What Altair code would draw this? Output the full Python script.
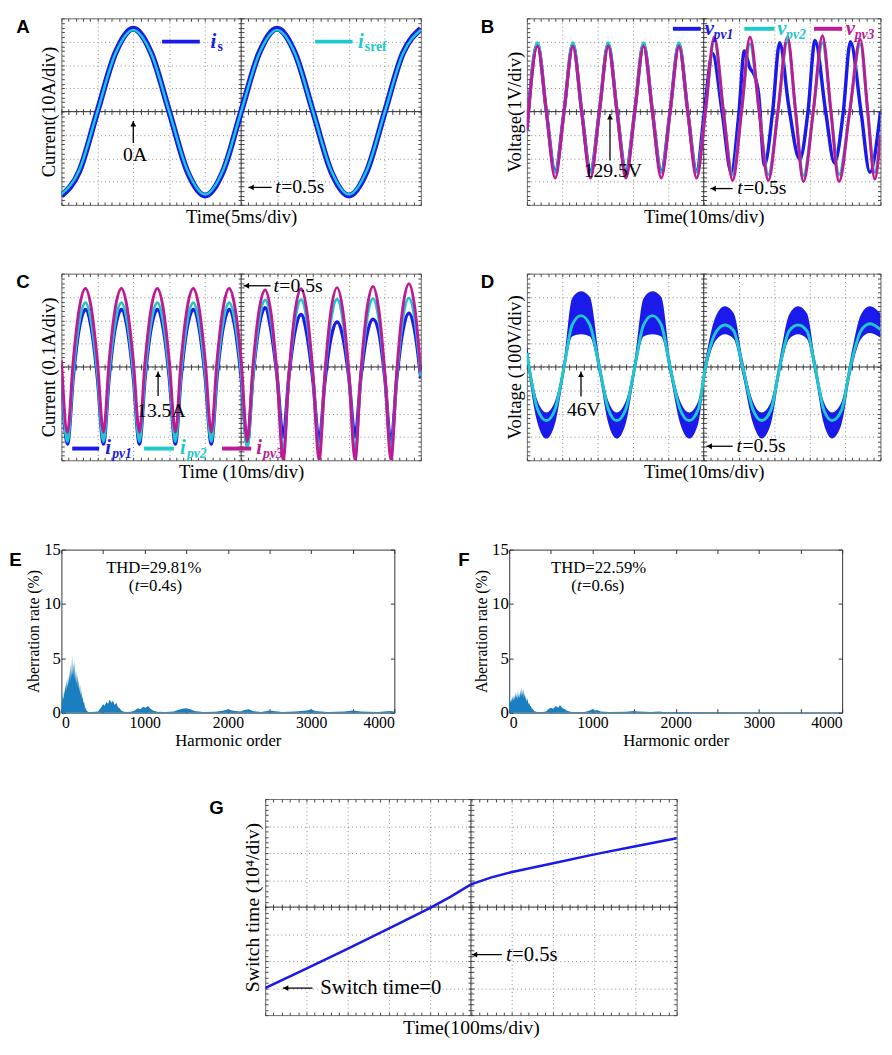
import altair as alt
import pandas as pd

SERIF = "Liberation Serif"
SANS = "Liberation Sans"
BLUE = "#1a1aeb"
CYAN = "#1ec9cc"
MAG = "#bd1a95"
SPEC = "#1a7fc1"
GRID = "#8a8a8a"
FRAME = "#6a6a6a"

# ---------------- data (in screen divisions) ----------------
A_T = [0, 0.5, 1, 1.5, 2, 2.5, 3, 3.5, 4, 4.5, 5, 5.5, 6, 6.5, 7, 7.5, 8, 8.5, 9, 9.5, 10]
A_IS = [-3.6, -2.55, 0, 2.5, 3.55, 2.5, 0, -2.55, -3.6, -2.55, 0, 2.5, 3.55, 2.5, 0, -2.55, -3.6, -2.55, 0, 2.5, 3.55]
A_ISREF = [-3.55, -2.5, 0, 2.48, 3.5, 2.48, 0, -2.5, -3.55, -2.5, 0, 2.48, 3.5, 2.48, 0, -2.5, -3.55, -2.5, 0, 2.48, 3.5]

B_T1 = [0, 0.3, 0.55, 0.8, 1.05, 1.3, 1.55, 1.8, 2.05, 2.3, 2.55, 2.8, 3.05, 3.3, 3.55, 3.8, 4.05, 4.3, 4.55, 4.8,
        5.02, 5.25, 5.52, 5.78, 6.0, 6.15, 6.3, 6.45, 6.55, 6.72, 6.95, 7.15, 7.4, 7.72, 7.95, 8.15, 8.45, 8.7, 8.95,
        9.15, 9.45, 9.7, 10]
B_V1 = [-0.8, 2.9, 0, -2.55, 0, 2.9, 0, -2.55, 0, 2.9, 0, -2.55, 0, 2.9, 0, -2.55, 0, 2.9, 0, -2.55,
        0, 2.5, 0, -2.6, 0, 2.6, 1.9, 1.5, 0.8, -2.3, 0, 2.95, 0.3, -2.05, 0, 3.05, 0, -2.2, 0,
        3.0, 0, -2.6, 0]
B_T23 = [0, 0.3, 0.55, 0.8, 1.05, 1.3, 1.55, 1.8, 2.05, 2.3, 2.55, 2.8, 3.05, 3.3, 3.55, 3.8, 4.05, 4.3, 4.55, 4.8,
         5.05, 5.3, 5.56, 5.82, 6.07, 6.31, 6.57, 6.83, 7.1, 7.37, 7.6, 7.82, 8.1, 8.36, 8.6, 8.83, 9.13, 9.43, 9.64,
         9.84, 10]
B_V2 = [-0.8, 2.95, 0, -2.6, 0, 2.95, 0, -2.6, 0, 2.95, 0, -2.6, 0, 2.95, 0, -2.6, 0, 2.95, 0, -2.6,
        0, 3.05, 0, -2.7, 0, 2.9, 0, -2.7, 0, 3.0, 0, -2.75, 0, 2.95, 0, -2.7, 0, 2.9, 0,
        -2.6, -1.0]
B_V3 = [-0.8, 2.8, 0, -2.85, 0, 2.8, 0, -2.85, 0, 2.8, 0, -2.85, 0, 2.8, 0, -2.85, 0, 2.8, 0, -2.85,
        0, 3.2, 0, -2.95, 0, 3.2, 0, -2.95, 0, 3.2, 0, -3.0, 0, 3.25, 0, -3.0, 0, 3.1, 0,
        -2.9, -1.0]

C_T = [0, 0.17, 0.33, 0.5, 0.67, 0.83, 1, 1.17, 1.33, 1.5, 1.67, 1.83, 2, 2.17, 2.33, 2.5, 2.67, 2.83,
       3, 3.17, 3.33, 3.5, 3.67, 3.83, 4, 4.17, 4.33, 4.5, 4.67, 4.83, 5, 5.17, 5.33, 5.5, 5.67, 5.83,
       6, 6.17, 6.33, 6.5, 6.67, 6.83, 7, 7.17, 7.33, 7.5, 7.67, 7.83, 8, 8.17, 8.33, 8.5, 8.67, 8.83,
       9, 9.17, 9.33, 9.5, 9.67, 9.83, 10]
C_PV1 = [-0.42, -3.3, -0.42, 1.69, 2.46, 1.69, -0.42, -3.3, -0.42, 1.69, 2.46, 1.69, -0.42, -3.3, -0.42, 1.69, 2.46, 1.69,
         -0.42, -3.3, -0.42, 1.69, 2.46, 1.69, -0.42, -3.3, -0.42, 1.69, 2.46, 1.69, -0.42, -3.3, -0.38, 1.76, 2.54, 1.6,
         -0.4, -3.0, -0.38, 1.55, 2.25, 1.4, -0.6, -3.2, -0.64, 1.24, 1.93, 1.3, -0.5, -3.0, -0.48, 1.37, 2.05, 1.5,
         -0.5, -3.3, -0.5, 1.55, 2.3, 1.55, -0.5]
C_PV2 = [-0.22, -3.2, -0.22, 1.95, 2.75, 1.95, -0.22, -3.2, -0.22, 1.95, 2.75, 1.95, -0.22, -3.2, -0.22, 1.95, 2.75, 1.95,
         -0.22, -3.2, -0.22, 1.95, 2.75, 1.95, -0.22, -3.2, -0.22, 1.95, 2.75, 1.95, -0.22, -3.5, -0.35, 2.0, 2.87, 2.0,
         -0.4, -3.7, -0.4, 2.0, 2.88, 2.0, -0.4, -3.7, -0.4, 2.02, 2.9, 2.02, -0.4, -3.7, -0.4, 2.05, 2.92, 2.05,
         -0.4, -3.7, -0.4, 2.08, 2.95, 2.08, -0.4]
C_PV3 = [0.28, -2.8, 0.28, 2.53, 3.36, 2.53, 0.28, -2.8, 0.28, 2.53, 3.36, 2.53, 0.28, -2.8, 0.28, 2.53, 3.36, 2.53,
         0.28, -2.8, 0.28, 2.53, 3.36, 2.53, 0.28, -2.8, 0.28, 2.53, 3.36, 2.53, 0.28, -3.2, 0.05, 2.43, 3.3, 2.32,
         -0.35, -4.0, -0.33, 2.37, 3.35, 2.37, -0.33, -4.0, -0.3, 2.41, 3.4, 2.41, -0.3, -4.0, -0.28, 2.45, 3.45, 2.45,
         -0.28, -4.0, -0.22, 2.56, 3.57, 2.56, -0.22]

D_T = [0, 0.3, 0.55, 0.8, 1.05, 1.28, 1.53, 1.78, 2.05, 2.3, 2.54, 2.8, 3.05, 3.3, 3.55, 3.8, 4.05, 4.33, 4.59, 4.85,
       5.05, 5.35, 5.6, 5.85, 6.1, 6.4, 6.64, 6.9, 7.15, 7.42, 7.67, 7.92, 8.15, 8.4, 8.63, 8.9, 9.15, 9.45, 9.7, 10]
D_CYAN = [0.6, -1.8, -2.3, -1.8, 0, 1.8, 2.2, 1.8, 0, -1.8, -2.3, -1.8, 0, 1.8, 2.2, 1.8, 0, -1.8, -2.3, -1.8,
          0, 1.5, 1.8, 1.55, 0, -1.85, -2.3, -1.85, 0, 1.55, 1.8, 1.55, 0, -1.85, -2.3, -1.85, 0, 1.55, 1.85, 1.6]
D_UP = [0.95, -1.45, -1.95, -1.45, 0.35, 2.95, 3.24, 3.0, 0.35, -1.45, -1.95, -1.45, 0.35, 2.95, 3.24, 3.0, 0.35, -1.45, -1.95, -1.45,
        0.35, 2.2, 2.6, 2.3, 0.35, -1.5, -1.95, -1.5, 0.35, 2.25, 2.6, 2.3, 0.35, -1.5, -1.95, -1.5, 0.35, 2.25, 2.6, 2.3]
D_LO = [0.25, -2.4, -3.07, -2.4, -0.35, 1.3, 1.4, 1.3, -0.35, -2.4, -3.07, -2.4, -0.35, 1.3, 1.4, 1.3, -0.35, -2.4, -3.07, -2.4,
        -0.35, 1.15, 1.4, 1.2, -0.35, -2.45, -3.07, -2.45, -0.35, 1.2, 1.4, 1.2, -0.35, -2.45, -3.07, -2.45, -0.35, 1.2, 1.45, 1.25]

E_ORDER = [0, 8, 16, 24, 32, 40, 48, 56, 64, 72, 80, 88, 96, 104, 112, 120, 128, 136, 144, 152, 160, 168, 176, 184,
           192, 200, 208, 216, 224, 232, 240, 248, 256, 264, 272, 280, 290, 300, 315, 330, 350, 400, 440,
           460, 480, 500, 520, 540, 560, 580, 600, 620, 640, 660, 680, 700, 720, 750, 800, 850, 880,
           920, 950, 980, 1010, 1040, 1070, 1100, 1150, 1250, 1350, 1400, 1450, 1500, 1550, 1600,
           1700, 1850, 1950, 2000, 2050, 2150, 2200, 2250, 2300, 2400, 2500, 2550, 2650, 2800,
           2950, 3000, 3050, 3200, 3400, 3500, 3600, 3800, 3950, 4000]
E_RATE = [0.3, 1.0, 1.6, 1.2, 2.1, 1.7, 2.6, 2.0, 3.0, 2.3, 3.4, 2.6, 3.9, 2.8, 4.5, 3.2, 5.3, 3.4, 4.6, 3.0, 4.8, 2.9, 3.9, 2.6,
          3.5, 2.2, 3.1, 1.9, 2.6, 1.6, 2.0, 1.2, 1.5, 0.9, 1.0, 0.6, 0.4, 0.25, 0.1, 0.05, 0.05, 0.08, 0.1,
          0.3, 0.5, 0.8, 0.6, 1.0, 0.8, 1.2, 0.9, 1.1, 0.7, 0.9, 0.5, 0.4, 0.2, 0.08, 0.05, 0.1, 0.2,
          0.4, 0.3, 0.55, 0.45, 0.6, 0.35, 0.2, 0.08, 0.05, 0.1, 0.25, 0.35, 0.4, 0.3, 0.15,
          0.05, 0.08, 0.2, 0.3, 0.2, 0.1, 0.25, 0.3, 0.15, 0.05, 0.2, 0.15, 0.05, 0.1,
          0.2, 0.3, 0.15, 0.05, 0.1, 0.2, 0.1, 0.05, 0.15, 0.1]
F_ORDER = [0, 3, 8, 16, 24, 32, 40, 48, 56, 64, 72, 80, 88, 96, 104, 112, 120, 128, 136, 144, 152, 160, 168, 176,
           184, 192, 200, 210, 220, 230, 240, 250, 260, 270, 285, 300, 330, 400, 440, 470, 500, 530, 560, 590,
           610, 640, 670, 700, 750, 900, 950, 1000, 1030, 1060, 1100, 1200, 1400, 1500, 1550, 1700, 1800, 1850,
           2100, 4000]
F_RATE = [5.0, 2.0, 1.2, 0.9, 1.3, 1.0, 1.5, 1.1, 1.6, 1.2, 1.9, 1.3, 1.7, 1.2, 2.0, 1.4, 1.8, 1.3, 2.1, 1.5, 2.3, 1.6,
          2.2, 1.4, 1.8, 1.2, 1.6, 1.0, 1.3, 0.8, 0.9, 0.6, 0.6, 0.4, 0.3, 0.15, 0.05, 0.05, 0.1, 0.3, 0.45, 0.35,
          0.6, 0.45, 0.7, 0.4, 0.3, 0.15, 0.05, 0.05, 0.15, 0.3, 0.2, 0.25, 0.1, 0.05, 0.08, 0.15, 0.1, 0.05,
          0.1, 0.05, 0.05, 0.03]

G_T = [0, 1, 2, 3, 4, 4.5, 5, 5.5, 6, 7, 8, 9, 10]
G_V = [-3.0, -2.28, -1.55, -0.8, -0.04, 0.38, 0.84, 1.1, 1.3, 1.62, 1.95, 2.25, 2.55]

# annotations (data units)
A_LEG = {"x": [2.8, 7.06], "x2": [3.85, 8.1], "y": [3.0, 3.0], "xl": [4.15, 8.25]}
A_ARROW_UP = {"x": [2.0], "y": [-1.35], "x2": [2.0], "y2": [-0.4]}
A_ARROW_LEFT = {"x": [5.85], "y": [-3.25], "x2": [5.2], "y2": [-3.25]}
A_TXT = {"x": [2.05], "y": [-1.85], "text": ["0A"]}
A_T05 = {"x": [5.95], "y": [-3.25]}

B_LEG = {"x": [4.13, 6.15, 8.12], "x2": [4.92, 7.0, 8.92], "y": [3.55, 3.55, 3.55], "xl": [5.03, 7.08, 9.02]}
B_ARROW_UP = {"x": [2.35], "y": [-2.1], "x2": [2.35], "y2": [-0.1]}
B_ARROW_LEFT = {"x": [5.82], "y": [-3.3], "x2": [5.19], "y2": [-3.3]}
B_TXT = {"x": [2.43], "y": [-2.55], "text": ["129.5V"]}
B_T05 = {"x": [5.95], "y": [-3.3]}

C_LEG = {"x": [0.3, 2.3, 4.47], "x2": [1.05, 3.13, 5.28], "y": [-3.5, -3.5, -3.5], "xl": [1.22, 3.3, 5.42]}
C_ARROW_UP = {"x": [2.69], "y": [-1.25], "x2": [2.69], "y2": [-0.2]}
C_ARROW_LEFT = {"x": [5.82], "y": [3.48], "x2": [5.07], "y2": [3.48]}
C_TXT = {"x": [2.78], "y": [-1.9], "text": ["13.5A"]}
C_T05 = {"x": [5.9], "y": [3.48]}

D_ARROW_UP = {"x": [1.53], "y": [-1.27], "x2": [1.53], "y2": [-0.2]}
D_ARROW_LEFT = {"x": [5.82], "y": [-3.4], "x2": [5.08], "y2": [-3.4]}
D_TXT = {"x": [1.61], "y": [-1.85], "text": ["46V"]}
D_T05 = {"x": [5.93], "y": [-3.4]}

G_ARROW_LEFT = {"x": [1.15, 5.75], "y": [-3.0, -1.76], "x2": [0.43, 5.02], "y2": [-3.0, -1.76]}
G_TXT = {"x": [1.34], "y": [-3.0], "text": ["Switch time=0"]}
G_T05 = {"x": [5.85], "y": [-1.76]}

E_THD = {"x": [1109], "y": [13.3], "text": ["THD=29.81%"]}
E_TP = {"x": [810], "y": [11.6], "a": ["("], "b": ["t"], "c": ["=0.4s)"]}
F_THD = {"x": [1074], "y": [13.3], "text": ["THD=22.59%"]}
F_TP = {"x": [745], "y": [11.6], "a": ["("], "b": ["t"], "c": ["=0.6s)"]}

# ---------------- helpers ----------------
XS = alt.Scale(domain=[0, 10], nice=False, zero=False)
YS = alt.Scale(domain=[-4, 4], nice=False, zero=False)
XMINOR = [round(i * 0.2, 1) for i in range(51)]
YMINOR = [round(-4 + i * 0.2, 1) for i in range(41)]
ONE = pd.DataFrame({"k": [0]})


def xy(xf, yf, xs=XS, ys=YS):
    return dict(x=alt.X(f"{xf}:Q", scale=xs, axis=None), y=alt.Y(f"{yf}:Q", scale=ys, axis=None))


def series(t, v, color, width, interp="monotone"):
    df = pd.DataFrame({"t": t, "v": v})
    return alt.Chart(df).mark_line(color=color, strokeWidth=width, interpolate=interp, clip=True).encode(**xy("t", "v"))


def tick_axis(orient, offset, values, size, color="#444"):
    return alt.Axis(orient=orient, offset=offset, values=values, grid=False, labels=False, domain=False,
                    tickSize=size, tickColor=color, title=None, minExtent=0, maxExtent=0)


def scope_frame(df, w, h, xtitle, ytitle, tfs=19):
    base = alt.Chart(df).mark_point(opacity=0).encode(
        x=alt.X("t:Q", scale=XS, axis=alt.Axis(values=list(range(11)), grid=True, gridDash=[1, 3], gridColor=GRID,
                                                ticks=False, labels=False, domain=False, title=xtitle,
                                                titleFont=SERIF, titleFontSize=tfs, titleFontWeight="normal",
                                                titleColor="black", titlePadding=3, minExtent=0)),
        y=alt.Y("v:Q", scale=YS, axis=alt.Axis(values=list(range(-4, 5)), grid=True, gridDash=[1, 3], gridColor=GRID,
                                                ticks=False, labels=False, domain=False, title=ytitle,
                                                titleFont=SERIF, titleFontSize=tfs, titleFontWeight="normal",
                                                titleColor="black", titlePadding=3, minExtent=0)))

    def ticks(xo, xoff, yo, yoff, size):
        return alt.Chart(df).mark_point(opacity=0, size=1).encode(
            x=alt.X("t:Q", scale=XS, axis=tick_axis(xo, xoff, XMINOR, size)),
            y=alt.Y("v:Q", scale=YS, axis=tick_axis(yo, yoff, YMINOR, size)))

    hrule = alt.Chart(ONE).mark_rule(color="#333", strokeWidth=1).encode(y=alt.YDatum(0, scale=YS, axis=None))
    vrule = alt.Chart(ONE).mark_rule(color="#333", strokeWidth=1).encode(x=alt.XDatum(5, scale=XS, axis=None))
    return [base,
            ticks("top", -h, "left", -w, 3),
            ticks("bottom", -h, "right", -w, 3),
            ticks("top", -(h / 2 + 3), "left", -(w / 2 + 3), 6),
            hrule, vrule]


def letter(ch, dx, dy=0):
    return alt.Chart(ONE).mark_text(text=ch, font=SANS, fontSize=19, fontWeight="bold", align="left",
                                    baseline="top", color="black").encode(x=alt.value(dx), y=alt.value(dy))


def texts(d, size=20, align="center", xs=XS, ys=YS):
    df = pd.DataFrame(d)
    return alt.Chart(df).mark_text(font=SERIF, fontSize=size, align=align, baseline="middle", color="black").encode(
        text="text:N", **xy("x", "y", xs, ys))


def arrows(d, direction):
    df = pd.DataFrame(d)
    shaft = alt.Chart(df).mark_rule(color="black", strokeWidth=1.3).encode(
        x=alt.X("x:Q", scale=XS, axis=None), x2="x2:Q", y=alt.Y("y:Q", scale=YS, axis=None), y2="y2:Q")
    if direction == "up":
        head = alt.Chart(df).mark_point(shape="triangle-up", filled=True, color="black", opacity=1, size=35,
                                        yOffset=3).encode(**xy("x2", "y2"))
    else:
        head = alt.Chart(df).mark_point(shape="triangle-left", filled=True, color="black", opacity=1, size=35,
                                        xOffset=3).encode(**xy("x2", "y2"))
    return [shaft, head]


def t05(d, size=20):
    df = pd.DataFrame(d)
    a = alt.Chart(df).mark_text(text="t", font=SERIF, fontSize=size, fontStyle="italic", align="left",
                                baseline="middle", color="black").encode(**xy("x", "y"))
    b = alt.Chart(df).mark_text(text="=0.5s", font=SERIF, fontSize=size, align="left", baseline="middle",
                                color="black", dx=size * 0.3).encode(**xy("x", "y"))
    return [a, b]


def legend(leg, colors, mains, subs, sub_italic, subdx):
    layers = []
    for i, c in enumerate(colors):
        df = pd.DataFrame({"x": [leg["x"][i]], "x2": [leg["x2"][i]], "y": [leg["y"][i]], "xl": [leg["xl"][i]],
                           "m": [mains[i]], "s": [subs[i]]})
        layers.append(alt.Chart(df).mark_rule(color=c, strokeWidth=4).encode(
            x=alt.X("x:Q", scale=XS, axis=None), x2="x2:Q", y=alt.Y("y:Q", scale=YS, axis=None)))
        layers.append(alt.Chart(df).mark_text(font=SERIF, fontSize=21, fontWeight="bold", fontStyle="italic",
                                              color=c, align="left", baseline="middle").encode(
            text="m:N", **xy("xl", "y")))
        layers.append(alt.Chart(df).mark_text(font=SERIF, fontSize=14, fontWeight="bold",
                                              fontStyle="italic" if sub_italic else "normal",
                                              color=c, align="left", baseline="middle", dx=subdx, dy=6).encode(
            text="s:N", **xy("xl", "y")))
    return layers


def finish(layers, w, h, stroke=FRAME):
    return alt.layer(*layers).resolve_axis(x="independent", y="independent").properties(
        width=w, height=h, view=alt.ViewBackground(stroke=stroke, strokeWidth=1))


# ---------------- panel A ----------------
WA, HA = 366, 190
dfA = pd.DataFrame({"t": A_T, "v": A_IS})
A = finish(scope_frame(dfA, WA, HA, "Time(5ms/div)", "Current(10A/div)")
           + [series(A_T, A_IS, BLUE, 6), series(A_T, A_ISREF, CYAN, 2.5)]
           + legend(A_LEG, [BLUE, CYAN], ["i", "i"], ["s", "sref"], False, 7)
           + arrows(A_ARROW_UP, "up") + arrows(A_ARROW_LEFT, "left")
           + [texts(A_TXT)] + t05(A_T05) + [letter("A", -46)], WA, HA)

# ---------------- panel B ----------------
WB, HB = 360, 190
dfB = pd.DataFrame({"t": B_T23, "v": B_V2})
B = finish(scope_frame(dfB, WB, HB, "Time(10ms/div)", "Voltage(1V/div)")
           + [series(B_T1, B_V1, BLUE, 3.5), series(B_T23, B_V2, CYAN, 3), series(B_T23, B_V3, MAG, 3)]
           + legend(B_LEG, [BLUE, CYAN, MAG], ["v", "v", "v"], ["pv1", "pv2", "pv3"], True, 9)
           + arrows(B_ARROW_UP, "up") + arrows(B_ARROW_LEFT, "left")
           + [texts(B_TXT)] + t05(B_T05) + [letter("B", -47)], WB, HB)

# ---------------- panel C ----------------
dfC = pd.DataFrame({"t": C_T, "v": C_PV3})
C = finish(scope_frame(dfC, WA, HA, "Time (10ms/div)", "Current (0.1A/div)")
           + [series(C_T, C_PV1, BLUE, 3.5), series(C_T, C_PV2, CYAN, 3),
              series(C_T, C_PV3, MAG, 3)]
           + legend(C_LEG, [BLUE, CYAN, MAG], ["i", "i", "i"], ["pv1", "pv2", "pv3"], True, 7)
           + arrows(C_ARROW_UP, "up") + arrows(C_ARROW_LEFT, "left")
           + [texts(C_TXT)] + t05(C_T05) + [letter("C", -46)], WA, HA)

# ---------------- panel D ----------------
dfD = pd.DataFrame({"t": D_T, "v": D_CYAN, "up": D_UP, "lo": D_LO})
band = alt.Chart(dfD).mark_area(color=BLUE, interpolate="monotone", opacity=1, clip=True).encode(
    x=alt.X("t:Q", scale=XS, axis=None), y=alt.Y("up:Q", scale=YS, axis=None), y2="lo:Q")
D = finish(scope_frame(dfD, WB, HB, "Time(10ms/div)", "Voltage (100V/div)")
           + [band, series(D_T, D_CYAN, CYAN, 3)]
           + arrows(D_ARROW_UP, "up") + arrows(D_ARROW_LEFT, "left")
           + [texts(D_TXT)] + t05(D_T05) + [letter("D", -47)], WB, HB)


# ---------------- panels E, F ----------------
def spectrum(order, rate, thd, tp, ch, w, h, ldx):
    xs = alt.Scale(domain=[0, 4000], nice=False, zero=False)
    ys = alt.Scale(domain=[0, 15], nice=False, zero=False)
    df = pd.DataFrame({"o": order, "r": rate})
    xv = list(range(0, 4001, 500))
    yv = [0, 5, 10, 15]
    area = alt.Chart(df).mark_area(color=SPEC, interpolate="linear", opacity=1).encode(
        x=alt.X("o:Q", scale=xs, axis=alt.Axis(values=xv, format="d", ticks=False, domain=False, grid=False,
                                                labelFont=SERIF, labelFontSize=16, labelColor="black",
                                                labelPadding=2, title="Harmonic order", titleFont=SERIF,
                                                titleFontSize=17, titleFontWeight="normal", titleColor="black",
                                                titlePadding=2, minExtent=0)),
        y=alt.Y("r:Q", scale=ys, axis=alt.Axis(values=yv, format="d", ticks=False, domain=False, grid=False,
                                                labelFont=SERIF, labelFontSize=17, labelColor="black",
                                                labelPadding=1, title="Aberration rate (%)", titleFont=SERIF,
                                                titleFontSize=16, titleFontWeight="normal", titleColor="black",
                                                titlePadding=2, minExtent=0)))

    def tk(xo, yo):
        return alt.Chart(df).mark_point(opacity=0, size=1).encode(
            x=alt.X("o:Q", scale=xs, axis=tick_axis(xo, -h, xv, 4, "#333")),
            y=alt.Y("r:Q", scale=ys, axis=tick_axis(yo, -w, yv, 4, "#333")))

    tdf = pd.DataFrame(tp)
    enc = dict(x=alt.X("x:Q", scale=xs, axis=None), y=alt.Y("y:Q", scale=ys, axis=None))
    p1 = alt.Chart(tdf).mark_text(font=SERIF, fontSize=17, align="left", baseline="middle").encode(text="a:N", **enc)
    p2 = alt.Chart(tdf).mark_text(font=SERIF, fontSize=17, fontStyle="italic", align="left", baseline="middle",
                                  dx=6).encode(text="b:N", **enc)
    p3 = alt.Chart(tdf).mark_text(font=SERIF, fontSize=17, align="left", baseline="middle",
                                  dx=11).encode(text="c:N", **enc)
    layers = [area, tk("top", "left"), tk("bottom", "right"), texts(thd, 17, "center", xs, ys), p1, p2, p3,
              letter(ch, ldx, 2)]
    return finish(layers, w, h, "#333")


WE, HE = 339, 166
E = spectrum(E_ORDER, E_RATE, E_THD, E_TP, "E", WE, HE, -53)
F = spectrum(F_ORDER, F_RATE, F_THD, F_TP, "F", WE, HE, -52)

# ---------------- panel G ----------------
WG, HG = 419, 220
dfG = pd.DataFrame({"t": G_T, "v": G_V})
G = finish(scope_frame(dfG, WG, HG, "Time(100ms/div)", "Switch time (10\u2074/div)", 20)
           + [series(G_T, G_V, BLUE, 2.5, "linear")]
           + arrows(G_ARROW_LEFT, "left")
           + [texts(G_TXT, 21, "left")] + t05(G_T05, 21) + [letter("G", -57)], WG, HG)

row1 = alt.hconcat(A, B, spacing=56)
row2 = alt.hconcat(C, D, spacing=56)
row3 = alt.hconcat(E, F, spacing=63)
top = alt.vconcat(row1, row2, spacing=46)
mid = alt.vconcat(top, row3, spacing=58)
chart = alt.vconcat(mid, G, spacing=50, center=True).properties(padding=0).configure_view(stroke=None)

chart.save("out.html", embed_options={"renderer": "svg", "actions": False})
